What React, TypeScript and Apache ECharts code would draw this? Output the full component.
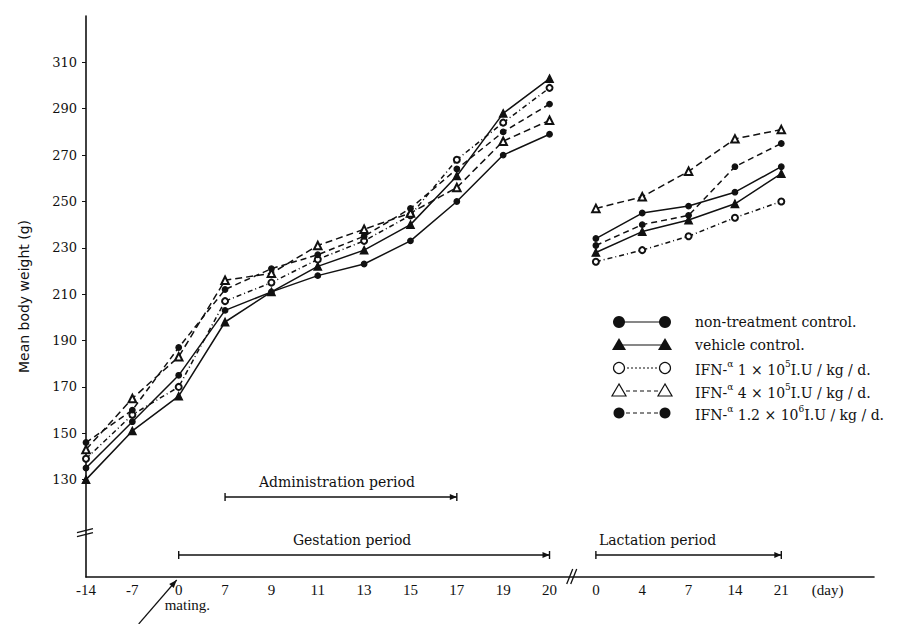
import React, { useEffect, useRef } from 'react';
import * as echarts from 'echarts';

// ---- data ----
const gestDays = ['-14', '-7', '0', '7', '9', '11', '13', '15', '17', '19', '20'];
const lactDays = ['0', '4', '7', '14', '21'];
const yTicks = [130, 150, 170, 190, 210, 230, 250, 270, 290, 310];

const nonTreatGest = [135, 155, 175, 203, 211, 218, 223, 233, 250, 270, 279];
const vehicleGest = [130, 151, 166, 198, 211, 222, 229, 240, 261, 288, 303];
const ifn1Gest = [139, 158, 170, 207, 215, 225, 233, 244, 268, 284, 299];
const ifn4Gest = [143, 165, 183, 216, 219, 231, 238, 245, 256, 276, 285];
const ifn12Gest = [146, 160, 187, 212, 221, 227, 235, 247, 264, 280, 292];

const nonTreatLact = [234, 245, 248, 254, 265];
const vehicleLact = [228, 237, 242, 249, 262];
const ifn1Lact = [224, 229, 235, 243, 250];
const ifn4Lact = [247, 252, 263, 277, 281];
const ifn12Lact = [231, 240, 244, 265, 275];

const groupNames = ['non-treatment control', 'vehicle control', 'IFN-α 1×10^5', 'IFN-α 4×10^5', 'IFN-α 1.2×10^6'];
const legendTexts = [
  'non-treatment control.',
  'vehicle control.',
  '{n|IFN-}{s|α}{n| 1 × 10}{s|5}{n|I.U / kg / d.}',
  '{n|IFN-}{s|α}{n| 4 × 10}{s|5}{n|I.U / kg / d.}',
  '{n|IFN-}{s|α}{n| 1.2 × 10}{s|6}{n|I.U / kg / d.}',
];

const categories = [...gestDays.map((d) => 'g' + d), ...lactDays.map((d) => 'l' + d), 'day', 'end'];
const xLabels = [...gestDays, ...lactDays, '(day)', ''];

const INK = '#111';
const groupStyles: any[] = [
  { symbol: 'circle', size: 5.5, dash: 'solid' },
  { symbol: 'triangle', size: 7.5, dash: 'solid' },
  { symbol: 'emptyCircle', size: 6, dash: [5, 3, 1, 3] },
  { symbol: 'emptyTriangle', size: 7.5, dash: [7, 4] },
  { symbol: 'circle', size: 5.5, dash: [6, 4] },
];

const gestAll = [nonTreatGest, vehicleGest, ifn1Gest, ifn4Gest, ifn12Gest];
const lactAll = [nonTreatLact, vehicleLact, ifn1Lact, ifn4Lact, ifn12Lact];

export default function App() {
  const ref = useRef<HTMLDivElement>(null);
  useEffect(() => {
    if (!ref.current) return;
    const chart = echarts.init(ref.current, undefined, { renderer: 'svg' });
    const series: any[] = [];
    groupNames.forEach((name, g) => {
      const st = groupStyles[g];
      const common = {
        type: 'line',
        name,
        symbol: st.symbol,
        symbolSize: st.size,
        silent: true,
        lineStyle: { color: INK, width: 1.5, type: st.dash },
        itemStyle: { color: INK, borderColor: INK, borderWidth: 1.3 },
      };
      series.push({ ...common, data: gestAll[g].map((v, i) => [i, v]) });
      series.push({ ...common, data: lactAll[g].map((v, i) => [i + gestDays.length, v]) });
    });

    chart.setOption({
      animation: false,
      backgroundColor: '#fff',
      grid: { left: 86, right: 40, top: 16, bottom: 47 },
      xAxis: {
        type: 'category',
        data: categories,
        boundaryGap: false,
        axisLine: { onZero: false, lineStyle: { color: INK, width: 1.6 } },
        axisTick: { show: false },
        axisLabel: {
          interval: 0,
          formatter: (_v: string, i: number) => xLabels[i],
          fontFamily: 'Liberation Serif',
          fontSize: 15,
          color: INK,
          margin: 5,
        },
        splitLine: { show: false },
      },
      yAxis: {
        type: 'value',
        min: 88,
        max: 330,
        axisLine: { show: true, lineStyle: { color: INK, width: 1.6 } },
        axisTick: { show: true, length: 4, customValues: yTicks, lineStyle: { color: INK } },
        axisLabel: { customValues: yTicks, fontFamily: 'DejaVu Serif', fontSize: 13, color: INK, margin: 9 },
        splitLine: { show: false },
        name: 'Mean body weight (g)',
        nameLocation: 'middle',
        nameGap: 55,
        nameTextStyle: { fontFamily: 'DejaVu Sans', fontSize: 14, color: INK },
      },
      series,
    });

    const X = (i: number) => chart.convertToPixel({ xAxisIndex: 0 }, i) as number;
    const Y = (v: number) => chart.convertToPixel({ yAxisIndex: 0 }, v) as number;
    const axY = Y(88);
    const axX = X(0) - 1;

    const els: any[] = [];
    const ln = (x1: number, y1: number, x2: number, y2: number, w = 1.3, dash?: number[]) =>
      els.push({ type: 'line', silent: true, shape: { x1, y1, x2, y2 }, style: { stroke: INK, lineWidth: w, lineDash: dash } });
    const txt = (x: number, y: number, text: string, align = 'center', font = 'DejaVu Serif', size = 14) =>
      els.push({ type: 'text', silent: true, x, y, style: { text, fill: INK, fontFamily: font, fontSize: size, align, verticalAlign: 'middle' } });
    const period = (x1: number, x2: number, y: number) => {
      ln(x1, y, x2, y, 1.4);
      ln(x1, y - 4, x1, y + 4, 1.4);
      ln(x2, y - 4, x2, y + 4, 1.4);
      els.push({ type: 'polygon', silent: true, shape: { points: [[x2 - 7, y - 3], [x2, y], [x2 - 7, y + 3]] }, style: { fill: INK } });
    };

    // periods
    const ad1 = X(3), ad2 = X(8);
    period(ad1, ad2, axY - 80);
    txt((ad1 + ad2) / 2 - 4, axY - 95, 'Administration period');
    const g1 = X(2), g2 = X(10);
    period(g1, g2, axY - 22);
    txt((g1 + g2) / 2 - 12, axY - 37, 'Gestation period');
    const l1 = X(11), l2 = X(15);
    period(l1, l2, axY - 22);
    txt(l1 + 3, axY - 37, 'Lactation period', 'left');

    // axis breaks
    const bx = (X(10) + X(11)) / 2;
    ln(bx - 6, axY + 7, bx, axY - 8, 1.3);
    ln(bx - 2, axY + 7, bx + 4, axY - 8, 1.3);
    const by = Y(108);
    ln(axX - 8, by + 2, axX + 8, by - 2, 1.3);
    ln(axX - 8, by + 6, axX + 8, by + 2, 1.3);

    // mating arrow
    const tipX = X(2) - 2, tipY = axY + 3;
    const tailX = tipX - 38, tailY = 624;
    ln(tailX, tailY, tipX, tipY, 1.2);
    const dx = tipX - tailX, dy = tipY - tailY, dl = Math.hypot(dx, dy);
    const ux = dx / dl, uy = dy / dl;
    els.push({
      type: 'polygon', silent: true,
      shape: { points: [[tipX, tipY], [tipX - 8 * ux - 3 * uy, tipY - 8 * uy + 3 * ux], [tipX - 8 * ux + 3 * uy, tipY - 8 * uy - 3 * ux]] },
      style: { fill: INK },
    });
    txt(X(2) - 14, axY + 28, 'mating.', 'left', 'Liberation Serif', 15);

    // legend
    const rowsY = [322, 345, 368, 391, 413];
    const sx1 = 619, sx2 = 665, tx = 695;
    const dashes: any[] = [undefined, undefined, [2, 2], [4, 3], [4, 3]];
    rowsY.forEach((ry, g) => {
      ln(sx1, ry, sx2, ry, 1.2, dashes[g]);
      [sx1, sx2].forEach((cx) => {
        if (g === 0) els.push({ type: 'circle', silent: true, shape: { cx, cy: ry, r: 6 }, style: { fill: INK } });
        if (g === 4) els.push({ type: 'circle', silent: true, shape: { cx, cy: ry, r: 5.5 }, style: { fill: INK } });
        if (g === 2) els.push({ type: 'circle', silent: true, shape: { cx, cy: ry, r: 5.5 }, style: { fill: '#fff', stroke: INK, lineWidth: 1.2 } });
        if (g === 1) els.push({ type: 'polygon', silent: true, shape: { points: [[cx, ry - 7], [cx - 7, ry + 5], [cx + 7, ry + 5]] }, style: { fill: INK } });
        if (g === 3) els.push({ type: 'polygon', silent: true, shape: { points: [[cx, ry - 7], [cx - 7, ry + 5], [cx + 7, ry + 5]] }, style: { fill: '#fff', stroke: INK, lineWidth: 1.2 } });
      });
      els.push({
        type: 'text', silent: true, x: tx, y: ry,
        style: {
          text: legendTexts[g], fill: INK, fontFamily: 'DejaVu Serif', fontSize: 14, align: 'left', verticalAlign: 'middle',
          rich: {
            n: { fontFamily: 'DejaVu Serif', fontSize: 14, fill: INK, lineHeight: 18, verticalAlign: 'bottom' },
            s: { fontFamily: 'DejaVu Serif', fontSize: 9, fill: INK, lineHeight: 11, verticalAlign: 'top' },
          },
        },
      });
    });

    chart.setOption({ graphic: { elements: els } });
    return () => chart.dispose();
  }, []);
  return <div ref={ref} style={{ position: 'fixed', left: 0, top: 0, width: 914, height: 624, background: '#fff' }} />;
}
